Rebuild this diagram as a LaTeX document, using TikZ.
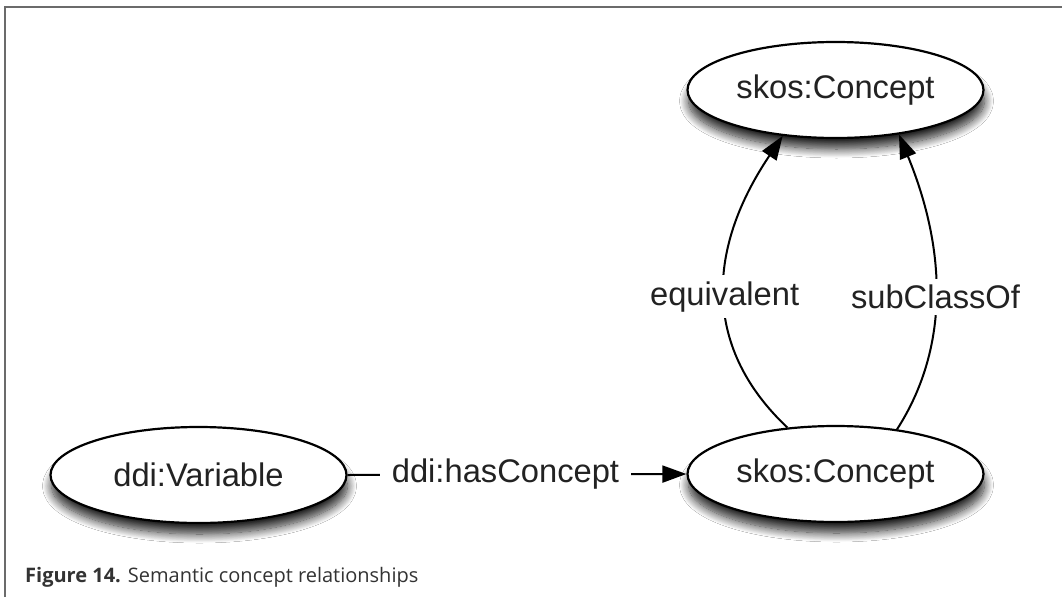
\documentclass[tikz,border=0pt]{standalone}
\usepackage{fontspec}
\setmainfont{Liberation Sans}
\newfontfamily\capfont{Open Sans}
\usetikzlibrary{shapes.geometric,arrows.meta,shadows.blur}
\definecolor{framegray}{HTML}{6B6B6B}
\definecolor{inkcol}{HTML}{222222}
\definecolor{capcol}{HTML}{333333}
\tikzset{
  concept/.style={ellipse, draw=black, line width=2.2pt, fill=white,
    minimum width=296pt, minimum height=96pt, inner sep=0pt,
    text=inkcol, font=\fontsize{32.7}{36}\selectfont,
    blur shadow={shadow xshift=1pt, shadow yshift=-11pt, shadow blur radius=9pt, shadow blur steps=14, shadow opacity=85}},
  rel/.style={draw=black, line width=2pt},
  arr/.style={rel, -{Triangle[length=24pt,width=17pt]}},
  lbl/.style={fill=white, inner xsep=12pt, inner ysep=6pt, text=inkcol, font=\fontsize{32.7}{36}\selectfont},
  captext/.style={anchor=base west, inner sep=0pt, text=capcol}
}
\begin{document}
\begin{tikzpicture}[x=1pt,y=-1pt]
\useasboundingbox (0,0) rectangle (1062,597);
\fill[white] (0,0) rectangle (1062,597);
\draw[framegray, line width=2pt] (4.5,597) -- (4.5,6.5) -- (1062,6.5);

\node[concept] (top) at (835.5,90) {skos:Concept};
\node[concept] (bot) at (835.5,474) {skos:Concept};
\node[concept] (var) at (198.5,475) {ddi:Variable};

\draw[arr] (var.east) -- node[lbl, pos=0.466] {ddi:hasConcept} (bot.west);
\draw[arr] (bot.136) .. controls (705,350) and (704,253) .. node[lbl] {equivalent} (top.221.5);
\draw[arr] (bot.36.7) .. controls (948,350) and (948,254) .. node[lbl] {subClassOf} (top.325.5);

\node[captext] (cap) at (25,582)
  {\capfont\fontsize{20}{24}\selectfont\textbf{Figure 14.} Semantic concept relationships};
\end{tikzpicture}
\end{document}
